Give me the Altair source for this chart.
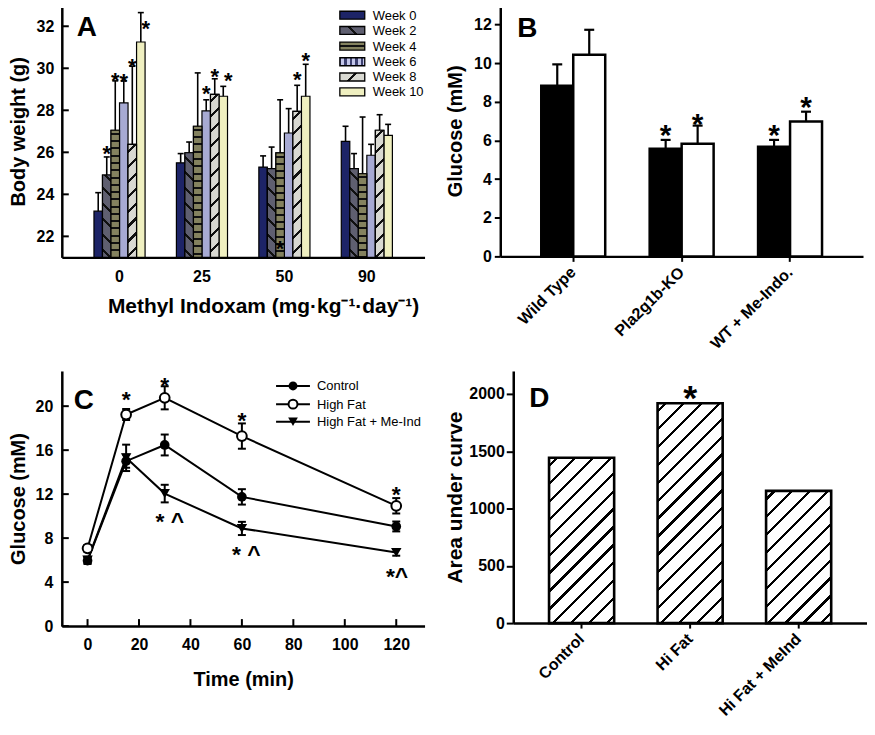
import math
import altair as alt
import pandas as pd

FONT = "Liberation Sans"

# ---------------- Panel A: body weight ----------------
doses = ["0", "25", "50", "90"]
weeks = ["Week 0", "Week 2", "Week 4", "Week 6", "Week 8", "Week 10"]
a_week0 = [23.20, 25.50, 25.30, 26.52]
a_week2 = [24.92, 25.98, 25.22, 25.22]
a_week4 = [27.05, 27.24, 25.97, 24.98]
a_week6 = [28.35, 27.97, 26.92, 25.86]
a_week8 = [26.38, 28.76, 27.95, 27.05]
a_week10 = [31.25, 28.67, 28.67, 26.81]
a_top0 = [24.08, 25.94, 25.83, 27.24]
a_top2 = [25.78, 26.49, 26.25, 25.94]
a_top4 = [29.40, 29.78, 28.50, 27.68]
a_top6 = [29.40, 28.50, 28.08, 26.38]
a_top8 = [30.10, 29.50, 29.19, 27.79]
a_top10 = [32.65, 29.14, 30.19, 27.33]
a_star_dose = ["0", "0", "0", "0", "25", "50", "50", "50", "25"]
a_star_week = ["Week 2", "Week 4", "Week 6", "Week 8", "Week 6", "Week 4", "Week 8", "Week 10", "Week 8"]
a_star_y = [26.17, 29.67, 29.59, 30.30, 29.03, 21.65, 29.71, 30.62, 29.87]
a_star_dose_right = ["0", "25"]
a_star_week_right = ["Week 10", "Week 10"]
a_star_y_right = [32.13, 29.67]
a_yticks = [22, 24, 26, 28, 30, 32]

# ---------------- Panel B: glucose ----------------
b_groups = ["Wild Type", "Pla2g1b-KO", "WT + Me-Indo."]
b_series = ["Filled", "Open"]
b_filled = [8.83, 5.57, 5.67]
b_filled_top = [9.94, 6.03, 6.03]
b_open = [10.44, 5.83, 6.98]
b_open_top = [11.73, 6.77, 7.49]
b_star_group = ["Pla2g1b-KO", "Pla2g1b-KO", "WT + Me-Indo.", "WT + Me-Indo."]
b_star_series = ["Filled", "Open", "Filled", "Open"]
b_star_y = [6.67, 7.23, 6.67, 8.09]
b_yticks = [0, 2, 4, 6, 8, 10, 12]

# ---------------- Panel C: glucose tolerance ----------------
c_time = [0, 15, 30, 60, 120]
c_series = ["Control", "High Fat", "High Fat + Me-Ind"]
c_control = [5.95, 15.00, 16.47, 11.75, 9.06]
c_control_sem = [0.30, 0.60, 0.95, 0.70, 0.45]
c_highfat = [7.07, 19.24, 20.76, 17.28, 10.94]
c_highfat_sem = [0.30, 0.50, 1.05, 1.15, 0.70]
c_hfmi = [6.00, 15.30, 12.05, 8.88, 6.70]
c_hfmi_sem = [0.30, 1.20, 0.80, 0.60, 0.30]
c_note_text = ["*", "*", "*", "*", "* ^", "* ^", "*^"]
c_note_time = [15, 30, 60, 120, 32, 61.7, 120.3]
c_note_y = [21.07, 22.40, 19.24, 12.45, 10.03, 7.00, 5.05]
c_xticks = [0, 20, 40, 60, 80, 100, 120]
c_yticks = [0, 4, 8, 12, 16, 20]

# ---------------- Panel D: area under curve ----------------
d_groups = ["Control", "Hi Fat", "Hi Fat + MeInd"]
d_auc = [1443, 1919, 1154]
d_star_group = ["Hi Fat"]
d_star_y = [2035]
d_yticks = [0, 500, 1000, 1500, 2000]


# ---------------- helpers ----------------
def hatch(base, line, w, h, kind, spacing, thick, phase):
    """Linear gradient with sharp stops imitating a hatch pattern."""
    r2 = math.sqrt(2)
    if kind in ("/", "\\"):
        k = max(1.0, (w + h) * w / (w * w + h * h))
        L = k * (w * w + h * h) / (r2 * w)
        dmax = (w + h) / r2
        if kind == "/":
            x1, y1, x2, y2 = 0, 0, k, k * h / w
        else:
            x1, y1, x2, y2 = 0, 1, k, 1 - k * h / w
    elif kind == "-":
        x1, y1, x2, y2 = 0, 0, 0, 1
        L, dmax = h, h
    else:
        x1, y1, x2, y2 = 0, 0, 1, 0
        L, dmax = w, w
    stops = [{"offset": 0, "color": base}]
    last = 0.0
    d = phase
    while d - thick / 2 < dmax:
        a = max(last, (d - thick / 2) / L)
        b = min(1.0, (d + thick / 2) / L)
        if b > a:
            for off, col in ((a, base), (a, line), (b, line), (b, base)):
                stops.append({"offset": round(off, 5), "color": col})
            last = b
        d += spacing
    stops.append({"offset": 1, "color": base})
    return {"gradient": "linear", "x1": x1, "y1": round(y1, 5),
            "x2": round(x2, 5), "y2": round(y2, 5), "stops": stops}


one = pd.DataFrame({"k": [0]})
BOLD = "bold"

# ======================= Panel A =======================
WA, HA = 364, 253
A_PI, A_PO = 0.38, 0.39
A_LO, A_HI = 21, 33
a_means = [a_week0, a_week2, a_week4, a_week6, a_week8, a_week10]
a_tops = [a_top0, a_top2, a_top4, a_top6, a_top8, a_top10]
a_colors = ["#1d2467", "#5f5f70", "#84825f", "#a7aad3", "#d9d9d2", "#efefc0"]
a_pattern = {
    "Week 2": ("\\", 11.0, 2.0, "#111111"),
    "Week 4": ("-", 7.3, 2.0, "#111111"),
    "Week 8": ("/", 10.6, 2.2, "#111111"),
}
dfA = pd.DataFrame([
    dict(dose=d, week=w, mean=a_means[j][i], top=a_tops[j][i])
    for i, d in enumerate(doses) for j, w in enumerate(weeks)
])

axAx = alt.Axis(title="Methyl Indoxam (mg·kg⁻¹·day⁻¹)", labelAngle=0, ticks=False,
                labelPadding=11, titlePadding=11, titleFontSize=21, titleX=202)
axAy = alt.Axis(values=a_yticks, title="Body weight (g)", ticks=False,
                labelPadding=8, titlePadding=8)
xA = alt.X("dose:N", scale=alt.Scale(domain=doses, paddingInner=A_PI, paddingOuter=A_PO), axis=axAx)
xoA = alt.XOffset("week:N", scale=alt.Scale(domain=weeks, paddingInner=0, paddingOuter=0))
ysA = alt.Scale(domain=[A_LO, A_HI], nice=False, zero=False)

def yA(field):
    return alt.Y(field, scale=ysA, axis=axAy)

a_layers = []
a_layers.append(
    alt.Chart(dfA).mark_bar(stroke="black", strokeWidth=1.2).encode(
        x=xA, xOffset=xoA, y=yA("mean:Q"), y2=alt.datum(A_LO),
        fill=alt.Fill("week:N", scale=alt.Scale(domain=weeks, range=a_colors), legend=None),
    )
)
stepA = WA / (len(doses) - A_PI + 2 * A_PO)
barwA = stepA * (1 - A_PI) / len(weeks)
for _, r in dfA.iterrows():
    if r["week"] in a_pattern:
        kind, sp, th, lc = a_pattern[r["week"]]
        base = a_colors[weeks.index(r["week"])]
        h = (r["mean"] - A_LO) / (A_HI - A_LO) * HA
        g = hatch(base, lc, barwA, h, kind, sp, th, sp / 2)
        a_layers.append(
            alt.Chart(pd.DataFrame([r])).mark_bar(fill=g, stroke="black", strokeWidth=1.2).encode(
                x=xA, xOffset=xoA, y=yA("mean:Q"), y2=alt.datum(A_LO)
            )
        )
a_layers.append(
    alt.Chart(dfA).mark_rule(color="black", strokeWidth=1.6).encode(
        x=xA, xOffset=xoA, y=yA("mean:Q"), y2="top:Q")
)
a_layers.append(
    alt.Chart(dfA).mark_tick(color="black", orient="horizontal", size=6, thickness=1.6, opacity=1).encode(
        x=xA, xOffset=xoA, y=yA("top:Q"))
)
A_STAR = 22
a_layers.append(
    alt.Chart(pd.DataFrame({"dose": a_star_dose, "week": a_star_week, "sy": a_star_y})).mark_text(
        text="*", font=FONT, fontWeight=BOLD, fontSize=A_STAR, color="black",
        baseline="alphabetic", dy=0.57 * A_STAR).encode(x=xA, xOffset=xoA, y=yA("sy:Q"))
)
a_layers.append(
    alt.Chart(pd.DataFrame({"dose": a_star_dose_right, "week": a_star_week_right, "sy": a_star_y_right})).mark_text(
        text="*", font=FONT, fontWeight=BOLD, fontSize=A_STAR, color="black",
        baseline="alphabetic", dx=5, dy=0.57 * A_STAR).encode(x=xA, xOffset=xoA, y=yA("sy:Q"))
)
# inward y ticks
a_layers.append(
    alt.Chart(pd.DataFrame({"v": a_yticks})).mark_rule(color="black", strokeWidth=2).encode(
        y=yA("v:Q"), x=alt.value(0), x2=alt.value(7))
)
# panel letter
a_layers.append(
    alt.Chart(one).mark_text(text="A", font=FONT, fontWeight=BOLD, fontSize=28, color="black",
                             align="left", baseline="alphabetic").encode(x=alt.value(15), y=alt.value(31))
)
# legend
a_leg_rows = [10, 25.3, 41, 56.7, 72, 87]
leg_pat = {
    "Week 2": ("\\", 100, 2.0, "#111111", 11.7),
    "Week 4": ("-", 100, 1.6, "#111111", 4.0),
    "Week 6": ("|", 5.5, 3.0, "#c3c6ea", 3.0),
    "Week 8": ("/", 100, 2.2, "#111111", 11.7),
}
for j, w in enumerate(weeks):
    ry = a_leg_rows[j]
    fill = a_colors[j]
    if w in leg_pat:
        kind, sp, th, lc, ph = leg_pat[w]
        base = "#3d4170" if w == "Week 6" else a_colors[j]
        fill = hatch(base, lc, 25, 8, kind, sp, th, ph)
    a_layers.append(
        alt.Chart(one).mark_rect(fill=fill, stroke="black", strokeWidth=1.3).encode(
            x=alt.value(279), x2=alt.value(304), y=alt.value(ry - 4), y2=alt.value(ry + 4))
    )
    a_layers.append(
        alt.Chart(one).mark_text(font=FONT, fontSize=13, color="black", align="left",
                                 baseline="middle").encode(
            x=alt.value(312), y=alt.value(ry + 0.5), text=alt.value(w))
    )
panelA = alt.layer(*a_layers).properties(width=WA, height=HA)

# ======================= Panel B =======================
WB, HB = 364, 252
B_PI, B_PO = 0.41, 0.378
dfB = pd.DataFrame(
    [dict(group=g, series="Filled", mean=b_filled[i], top=b_filled_top[i]) for i, g in enumerate(b_groups)]
    + [dict(group=g, series="Open", mean=b_open[i], top=b_open_top[i]) for i, g in enumerate(b_groups)]
)
axBx = alt.Axis(title=None, labelAngle=315, labelAlign="right", labelBaseline="middle",
                tickSize=5, labelPadding=8)
axBy = alt.Axis(values=b_yticks, title="Glucose (mM)", tickSize=6, labelPadding=3, titlePadding=8)
xB = alt.X("group:N", scale=alt.Scale(domain=b_groups, paddingInner=B_PI, paddingOuter=B_PO), axis=axBx)
xoB = alt.XOffset("series:N", scale=alt.Scale(domain=b_series, paddingInner=0, paddingOuter=0))
ysB = alt.Scale(domain=[0, 13], nice=False)

def yB(field):
    return alt.Y(field, scale=ysB, axis=axBy)

B_STAR = 30
panelB = alt.layer(
    alt.Chart(dfB).mark_rule(color="black", strokeWidth=2.2).encode(x=xB, xOffset=xoB, y=yB("mean:Q"), y2="top:Q"),
    alt.Chart(dfB).mark_tick(color="black", orient="horizontal", size=10, thickness=2.2, opacity=1).encode(
        x=xB, xOffset=xoB, y=yB("top:Q")),
    alt.Chart(dfB[dfB.series == "Filled"]).mark_bar(stroke="black", strokeWidth=2.5, fill="black").encode(
        x=xB, xOffset=xoB, y=yB("mean:Q"), y2=alt.datum(0)),
    alt.Chart(dfB[dfB.series == "Open"]).mark_bar(stroke="black", strokeWidth=2.5, fill="white").encode(
        x=xB, xOffset=xoB, y=yB("mean:Q"), y2=alt.datum(0)),
    alt.Chart(pd.DataFrame({"group": b_star_group, "series": b_star_series, "sy": b_star_y})).mark_text(
        text="*", font=FONT, fontWeight=BOLD, fontSize=B_STAR, color="black",
        baseline="alphabetic", dy=0.57 * B_STAR).encode(x=xB, xOffset=xoB, y=yB("sy:Q")),
    alt.Chart(one).mark_text(text="B", font=FONT, fontWeight=BOLD, fontSize=28, color="black",
                             align="left", baseline="alphabetic").encode(x=alt.value(17), y=alt.value(32)),
).properties(width=WB, height=HB)

# ======================= Panel C =======================
WC, HC = 364, 256
dfC = pd.DataFrame(
    [dict(series=c_series[0], time=t, val=c_control[i], sem=c_control_sem[i]) for i, t in enumerate(c_time)]
    + [dict(series=c_series[1], time=t, val=c_highfat[i], sem=c_highfat_sem[i]) for i, t in enumerate(c_time)]
    + [dict(series=c_series[2], time=t, val=c_hfmi[i], sem=c_hfmi_sem[i]) for i, t in enumerate(c_time)]
)
dfC["lo"] = dfC["val"] - dfC["sem"]
dfC["hi"] = dfC["val"] + dfC["sem"]
axCx = alt.Axis(values=c_xticks, title="Time (min)", ticks=False, labelPadding=11, titlePadding=17)
axCy = alt.Axis(values=c_yticks, title="Glucose (mM)", ticks=False, labelPadding=9, titlePadding=7)
xsC = alt.Scale(domain=[-10, 131], nice=False, zero=False)
ysC = alt.Scale(domain=[0, 23.2], nice=False)

def xC(field):
    return alt.X(field, scale=xsC, axis=axCx)

def yC(field):
    return alt.Y(field, scale=ysC, axis=axCy)

C_STAR = 23
c_layers = [
    alt.Chart(dfC).mark_line(color="black", strokeWidth=2).encode(x=xC("time:Q"), y=yC("val:Q"), detail="series:N"),
    alt.Chart(dfC).mark_rule(color="black", strokeWidth=2).encode(x=xC("time:Q"), y=yC("lo:Q"), y2="hi:Q"),
    alt.Chart(dfC).mark_tick(color="black", orient="horizontal", size=8, thickness=2, opacity=1).encode(
        x=xC("time:Q"), y=yC("lo:Q")),
    alt.Chart(dfC).mark_tick(color="black", orient="horizontal", size=8, thickness=2, opacity=1).encode(
        x=xC("time:Q"), y=yC("hi:Q")),
    alt.Chart(dfC[dfC.series == c_series[2]]).mark_point(shape="triangle-down", filled=True, size=110,
                                                        color="black", opacity=1).encode(
        x=xC("time:Q"), y=yC("val:Q")),
    alt.Chart(dfC[dfC.series == c_series[0]]).mark_point(shape="circle", filled=True, size=95,
                                                        color="black", opacity=1).encode(
        x=xC("time:Q"), y=yC("val:Q")),
    alt.Chart(dfC[dfC.series == c_series[1]]).mark_point(shape="circle", filled=True, size=95, fill="white",
                                                        stroke="black", strokeWidth=2, opacity=1).encode(
        x=xC("time:Q"), y=yC("val:Q")),
    alt.Chart(pd.DataFrame({"t": c_note_time, "y": c_note_y, "s": c_note_text})).mark_text(
        font=FONT, fontWeight=BOLD, fontSize=C_STAR, color="black", baseline="alphabetic",
        dy=0.57 * C_STAR).encode(x=xC("t:Q"), y=yC("y:Q"), text="s:N"),
    alt.Chart(pd.DataFrame({"v": c_yticks})).mark_rule(color="black", strokeWidth=2).encode(
        y=yC("v:Q"), x=alt.value(0), x2=alt.value(7)),
    alt.Chart(pd.DataFrame({"v": c_xticks})).mark_rule(color="black", strokeWidth=2).encode(
        x=xC("v:Q"), y=alt.value(HC), y2=alt.value(HC - 7)),
    alt.Chart(one).mark_text(text="C", font=FONT, fontWeight=BOLD, fontSize=28, color="black",
                             align="left", baseline="alphabetic").encode(x=alt.value(12), y=alt.value(38)),
]
c_leg_rows = [15, 33.3, 51]
c_leg_style = [
    dict(shape="circle", filled=True, size=80, color="black"),
    dict(shape="circle", filled=True, size=80, fill="white", stroke="black", strokeWidth=2),
    dict(shape="triangle-down", filled=True, size=95, color="black"),
]
for k, s in enumerate(c_series):
    ry = c_leg_rows[k]
    c_layers.append(alt.Chart(one).mark_rule(color="black", strokeWidth=2).encode(
        x=alt.value(215), x2=alt.value(249), y=alt.value(ry)))
    c_layers.append(alt.Chart(one).mark_point(opacity=1, **c_leg_style[k]).encode(
        x=alt.value(232), y=alt.value(ry)))
    c_layers.append(alt.Chart(one).mark_text(font=FONT, fontSize=13, color="black", align="left",
                                             baseline="middle").encode(
        x=alt.value(256), y=alt.value(ry + 0.5), text=alt.value(s)))
panelC = alt.layer(*c_layers).properties(width=WC, height=HC)

# ======================= Panel D =======================
WD, HD = 355, 253
D_PI, D_PO = 0.40, 0.33
D_HI = 2200
dfD = pd.DataFrame({"group": d_groups, "auc": d_auc})
axDx = alt.Axis(title=None, labelAngle=315, labelAlign="right", labelBaseline="middle",
                tickSize=5, labelPadding=8)
axDy = alt.Axis(values=d_yticks, format="d", title="Area under curve", tickSize=7, labelPadding=2,
                titlePadding=3, titleFontSize=21)
xD = alt.X("group:N", scale=alt.Scale(domain=d_groups, paddingInner=D_PI, paddingOuter=D_PO), axis=axDx)
ysD = alt.Scale(domain=[0, D_HI], nice=False)

def yD(field):
    return alt.Y(field, scale=ysD, axis=axDy)

stepD = WD / (len(d_groups) - D_PI + 2 * D_PO)
barwD = stepD * (1 - D_PI)
d_layers = []
for i, g in enumerate(d_groups):
    h = d_auc[i] / D_HI * HD
    fillg = hatch("white", "black", barwD, h, "/", 12.7, 2.3, 6.0)
    d_layers.append(
        alt.Chart(dfD[dfD.group == g]).mark_bar(fill=fillg, stroke="black", strokeWidth=2.6).encode(
            x=xD, y=yD("auc:Q"), y2=alt.datum(0))
    )
D_STAR = 36
d_layers.append(
    alt.Chart(pd.DataFrame({"group": d_star_group, "sy": d_star_y})).mark_text(
        text="*", font=FONT, fontWeight=BOLD, fontSize=D_STAR, color="black",
        baseline="alphabetic", dy=0.57 * D_STAR).encode(x=xD, y=yD("sy:Q"))
)
d_layers.append(
    alt.Chart(one).mark_text(text="D", font=FONT, fontWeight=BOLD, fontSize=28, color="black",
                             align="left", baseline="alphabetic").encode(x=alt.value(16), y=alt.value(36))
)
panelD = alt.layer(*d_layers).properties(width=WD, height=HD)

# ======================= assemble =======================
IND = dict(xOffset="independent", fill="independent", x="independent", y="independent")
row1 = alt.hconcat(panelA, panelB, spacing=21).resolve_scale(**IND)
row2 = alt.hconcat(panelC, panelD, spacing=20).resolve_scale(**IND)
chart = alt.vconcat(row1, row2, spacing=19).resolve_scale(**IND).properties(
    padding={"left": 0, "top": -4, "right": 0, "bottom": 0}
).configure_view(stroke=None).configure_axis(
    domainColor="black", domainWidth=2.5, tickColor="black", tickWidth=2,
    labelFont=FONT, labelFontWeight="bold", labelFontSize=16, labelColor="black",
    titleFont=FONT, titleFontWeight="bold", titleFontSize=20, titleColor="black",
    grid=False,
).configure_text(font=FONT)

chart.save("out.html", embed_options={"renderer": "svg", "actions": False})
